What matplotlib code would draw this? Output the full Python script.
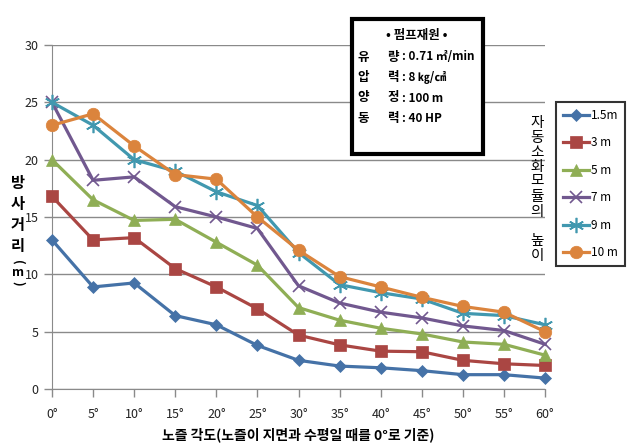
import matplotlib

matplotlib.use("Agg")
import matplotlib.pyplot as plt
from matplotlib.patches import Rectangle

plt.rcParams["font.family"] = ["Noto Sans CJK KR", "DejaVu Sans"]

angles = [0, 5, 10, 15, 20, 25, 30, 35, 40, 45, 50, 55, 60]
angle_labels = [f"{a}°" for a in angles]

h_1_5 = [13.0, 8.9, 9.25, 6.4, 5.6, 3.8, 2.5, 2.0, 1.85, 1.6, 1.25, 1.25, 0.95]
h_3 = [16.8, 13.0, 13.2, 10.5, 8.9, 7.0, 4.7, 3.85, 3.3, 3.25, 2.5, 2.2, 2.05]
h_5 = [20.0, 16.5, 14.7, 14.8, 12.8, 10.8, 7.1, 6.0, 5.3, 4.8, 4.1, 3.9, 2.95]
h_7 = [25.0, 18.2, 18.5, 15.9, 15.0, 14.0, 9.0, 7.5, 6.7, 6.2, 5.5, 5.1, 3.9]
h_9 = [25.0, 23.0, 20.0, 19.0, 17.2, 16.0, 11.9, 9.1, 8.4, 7.85, 6.6, 6.4, 5.6]
h_10 = [23.0, 24.0, 21.2, 18.7, 18.3, 15.0, 12.1, 9.8, 8.9, 8.0, 7.2, 6.7, 5.0]

series = [
    ("1.5m", h_1_5, "#4572A7", "D", 6),
    ("3 m", h_3, "#AA4643", "s", 8),
    ("5 m", h_5, "#8FAE55", "^", 8),
    ("7 m", h_7, "#71588F", "x", 9),
    ("9 m", h_9, "#4198AF", (6, 2, 0), 11),
    ("10 m", h_10, "#DB843D", "o", 9),
]

fig = plt.figure(figsize=(6.43, 4.47), dpi=100)
ax = fig.add_axes([52 / 643, 1 - 389 / 447, (545 - 52) / 643, (389 - 45) / 447])

for label, vals, color, marker, ms in series:
    ax.plot(angles, vals, color=color, lw=2.3, marker=marker, ms=ms,
            mew=1.2 if marker in ("x", (6, 2, 0)) else 0.5,
            mec=color, label=label, clip_on=False, zorder=3)

ax.set_xlim(0, 60)
ax.set_ylim(0, 30)
ax.set_xticks(angles)
ax.set_xticklabels(angle_labels)
ax.set_yticks(range(0, 31, 5))
ax.grid(axis="y", color="#8a8a8a", lw=1)
ax.set_axisbelow(True)
for side in ("top", "right"):
    ax.spines[side].set_visible(False)
for side in ("left", "bottom"):
    ax.spines[side].set_color("#8a8a8a")
ax.tick_params(axis="both", colors="#8a8a8a", labelcolor="#222222",
               labelsize=9, length=6, width=1)
ax.tick_params(axis="x", pad=8)

ax.set_xlabel("노즐 각도(노즐이 지면과 수평일 때를 0°로 기준)", fontsize=10,
              fontweight="bold", labelpad=4)

# vertical stacked y label
for i, ch in enumerate("방사거리"):
    fig.text(18 / 643, 1 - (183 + i * 21) / 447, ch, fontsize=11,
             ha="center", va="center", fontweight="bold")
for ch, ypx, rot in [("(", 262, -90), ("m", 272, 0), (")", 283, -90)]:
    fig.text(18 / 643, 1 - ypx / 447, ch, fontsize=9, rotation=rot,
             ha="center", va="center", fontweight="bold")

# vertical stacked right label
right_label = "자동소화모듈의 높이"
for i, ch in enumerate(right_label):
    fig.text(537 / 643, 1 - (123 + i * 14.8) / 447, ch, fontsize=10.5,
             ha="center", va="center")

# pump spec box
box = Rectangle((352 / 643, 1 - 154 / 447), (483 - 352) / 643, (154 - 19) / 447,
                transform=fig.transFigure, facecolor="white", edgecolor="black",
                lw=3, zorder=5)
fig.patches.append(box)
fig.text(417 / 643, 1 - 35 / 447, "• 펌프재원 •", fontsize=9, fontweight="bold",
         ha="center", va="center", zorder=6)
spec_rows = [("유", "량", "0.71 ㎡/min"), ("압", "력", "8 ㎏/㎠"),
             ("양", "정", "100 m"), ("동", "력", "40 HP")]
for i, (c1, c2, val) in enumerate(spec_rows):
    y = 1 - (57 + i * 20.5) / 447
    fig.text(363 / 643, y, c1, fontsize=9, fontweight="bold", ha="center",
             va="center", zorder=6)
    fig.text(393 / 643, y, c2, fontsize=9, fontweight="bold", ha="center",
             va="center", zorder=6)
    fig.text(402 / 643, y, ": " + val, fontsize=8.5, fontweight="bold",
             ha="left", va="center", zorder=6)

leg = fig.legend(loc="upper left", bbox_to_anchor=(556 / 643, 1 - 102 / 447),
                 frameon=True, fancybox=False, fontsize=8.5, handlelength=2.2,
                 handletextpad=0.15, labelspacing=1.22, borderpad=0.6,
                 borderaxespad=0)
leg.get_frame().set_edgecolor("black")
leg.get_frame().set_linewidth(1.5)

fig.savefig("out.png", dpi=100)
